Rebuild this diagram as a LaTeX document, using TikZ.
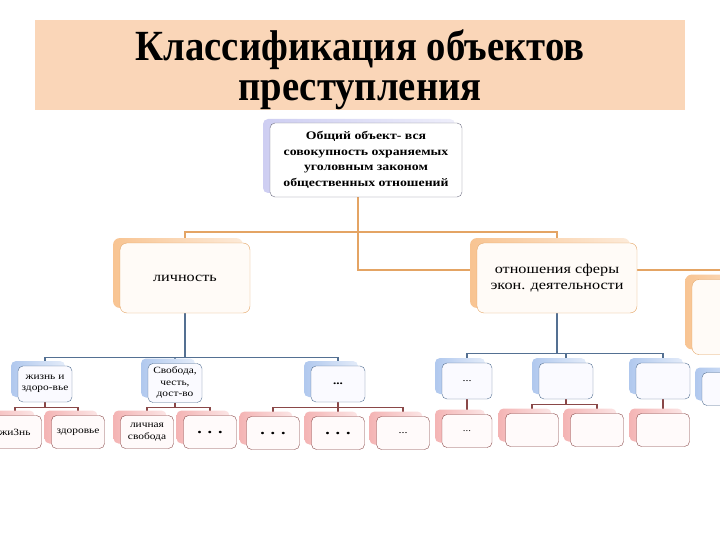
\documentclass[tikz,border=0pt]{standalone}
\usepackage{fontspec}
\setmainfont{Liberation Serif}
\newfontfamily\titlefont[FakeStretch=0.9]{Liberation Serif}
\newfontfamily\widefont[FakeStretch=1.2]{Liberation Serif}
\usetikzlibrary{shadows,backgrounds}

\definecolor{titlebg}{RGB}{250,214,184}
\definecolor{rootline}{RGB}{112,112,132}
\definecolor{rootshade}{RGB}{206,206,242}
\definecolor{orline}{RGB}{228,164,100}
\definecolor{orshade}{RGB}{248,196,146}
\definecolor{blline}{RGB}{84,112,146}
\definecolor{blshade}{RGB}{176,200,238}
\definecolor{rdline}{RGB}{138,72,72}
\definecolor{rdshade}{RGB}{244,180,180}

\newcommand{\bigdotsfont}{\fontsize{15}{15}\selectfont\bfseries}

\tikzset{
  box/.style = {rounded corners=#1, align=center, inner sep=1pt},
  box/.default = 5pt,
  titlebox/.style = {align=center, font=\titlefont\fontsize{43}{40}\selectfont\bfseries},
  rootbox/.style = {box, draw=rootline, fill=white, minimum width=192pt,
                    minimum height=74pt,
                    general shadow={left color=rootshade, right color=rootshade!35,
                                    shadow xshift=-7pt, shadow yshift=4pt},
                    font=\widefont\fontsize{11.5}{15.5}\selectfont\bfseries},
  lonebox/.style = {box=7pt, draw=orline, fill=orange!3, minimum height=70pt,
                    general shadow={left color=orshade, right color=orshade!35,
                                    shadow xshift=-7pt, shadow yshift=5pt},
                    font=\widefont\fontsize{13.5}{16}\selectfont},
  ltwobox/.style = {box, draw=blline, fill=blue!2, minimum width=54pt, minimum height=36pt,
                    general shadow={left color=blshade, right color=blshade!35,
                                    shadow xshift=-7pt, shadow yshift=5pt},
                    font=\widefont\fontsize{9.5}{11.5}\selectfont},
  lthreebox/.style = {box, draw=rdline, fill=red!2, minimum width=53pt, minimum height=33pt,
                      general shadow={left color=rdshade, right color=rdshade!35,
                                      shadow xshift=-7pt, shadow yshift=5pt},
                      font=\widefont\fontsize{9.5}{11.5}\selectfont},
  linkor/.style = {draw=orline, line width=1.6pt},
  linkbl/.style = {draw=blline, line width=1.4pt},
  linkrd/.style = {draw=rdline, line width=1.4pt}
}

\begin{document}
\begin{tikzpicture}[x=1pt, y=-1pt]
	\useasboundingbox (0,0) rectangle (720,540);

	% Title
	\fill[titlebg] (35,20) rectangle (685,110);
	\node[titlebox] (title) at (360,70) {Классификация объектов\\преступления};

	% Root
	\node[rootbox] (root) at (366,160) {Общий объект- вся\\совокупность охраняемых\\уголовным законом\\общественных отношений};

	% Level 1
	\node[lonebox, minimum width=130pt] (lich) at (185,278) {личность};
	\node[lonebox, minimum width=160pt] (econ) at (557,278) {отношения сферы\\экон. деятельности};
	\node[lonebox, minimum width=88pt, minimum height=75pt] (rbox) at (736,317) {};

	% Level 2
	\node[ltwobox] (zhz) at (45,384) {жизнь и\\здоро-вье};
	\node[ltwobox, minimum height=39pt] (svob) at (175,383) {Свобода,\\честь,\\дост-во};
	\node[ltwobox] (dotsa) at (338,384) {\fontsize{11}{11}\selectfont\bfseries ...};
	\node[ltwobox, minimum width=50pt] (dotsb) at (467,381) {\fontsize{10}{10}\selectfont ...};
	\node[ltwobox] (emptya) at (566,381) {};
	\node[ltwobox] (emptyb) at (663,381) {};
	\node[ltwobox, minimum height=33pt] (emptyc) at (729,389) {};

	% Level 3
	\node[lthreebox] (zhizn) at (15,432) {жи3нь};
	\node[lthreebox] (zdor) at (78,432) {здоровье};
	\node[lthreebox] (lsvob) at (147,432) {личная\\свобода};
	\node[lthreebox] (dotsc) at (210,432) {\bigdotsfont . . .};
	\node[lthreebox] (dotsd) at (273,433) {\bigdotsfont . . .};
	\node[lthreebox] (dotse) at (338,433) {\bigdotsfont . . .};
	\node[lthreebox] (dotsf) at (403,433) {\fontsize{10}{10}\selectfont ...};
	\node[lthreebox, minimum width=50pt] (dotsg) at (467,431) {\fontsize{9}{9}\selectfont ...};
	\node[lthreebox] (emptyd) at (532,430) {};
	\node[lthreebox] (emptye) at (597,430) {};
	\node[lthreebox] (emptyf) at (663,430) {};

	% Bus points of the root
	\coordinate (ba) at (358,232);
	\coordinate (bb) at (358,270);
	\coordinate (rt) at (720,270);

	\begin{scope}[on background layer]
		% Root -> level 1
		\draw[linkor] (ba |- root.south) -- (bb) -- (rt);
		\draw[linkor] (lich.north) |- (ba) -| (econ.north);

		% Level 1 -> level 2
		\foreach \c in {zhz,svob,dotsa}
			\draw[linkbl] (lich.south) -- ++(0,44) -| (\c.north);
		\foreach \c in {dotsb,emptya,emptyb}
			\draw[linkbl] (econ.south) -- ++(0,40) -| (\c.north);

		% Level 2 -> level 3
		\foreach \c in {zhizn,zdor}
			\draw[linkrd] (zhz.south) -- ++(0,5) -| (\c.north);
		\foreach \c in {lsvob,dotsc}
			\draw[linkrd] (svob.south) -- ++(0,5) -| (\c.north);
		\foreach \c in {dotsd,dotse,dotsf}
			\draw[linkrd] (dotsa.south) -- ++(0,5) -| (\c.north);
		\draw[linkrd] (dotsb) -- (dotsg);
		\foreach \c in {emptyd,emptye}
			\draw[linkrd] (emptya.south) -- ++(0,5) -| (\c.north);
		\draw[linkrd] (emptyb) -- (emptyf);
	\end{scope}
\end{tikzpicture}
\end{document}
